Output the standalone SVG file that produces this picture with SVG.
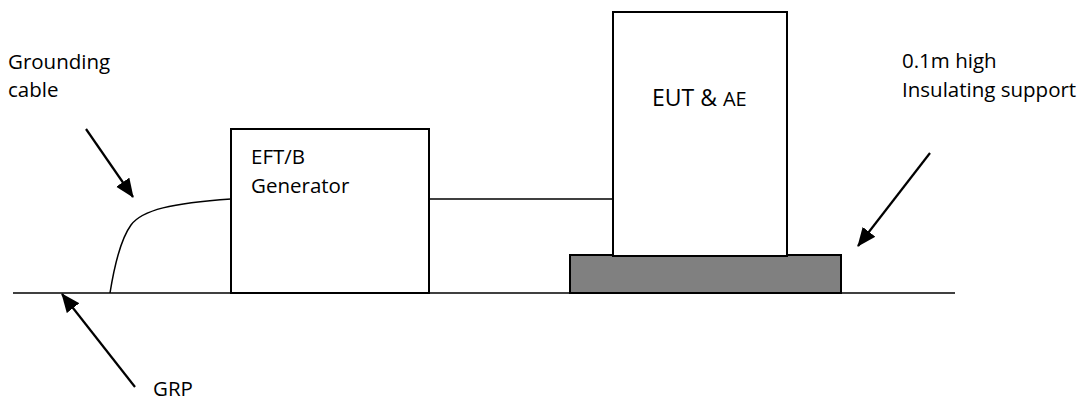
<svg xmlns="http://www.w3.org/2000/svg" width="1088" height="400" viewBox="0 0 1088 400">
<style>
.t{font-family:"Open Sans","Noto Sans","Liberation Sans",sans-serif;font-size:20.5px;fill:#000}
.box{fill:#fff;stroke:#000;stroke-width:2}
.ln{fill:none;stroke:#000;stroke-width:1.5}
.arr{fill:none;stroke:#000;stroke-width:2.2;marker-end:url(#ah)}
</style>
<defs>
<marker id="ah" markerUnits="userSpaceOnUse" markerWidth="22" markerHeight="18" refX="18" refY="8" orient="auto" viewBox="0 0 22 16">
<path d="M0,0 L19,8 L0,16 Z" fill="#000"/>
</marker>
</defs>
<rect width="1088" height="400" fill="#fff"/>
<g id="connectors">
<line id="grp-line" class="ln" x1="13" y1="293" x2="955" y2="293"/>
<path id="ground-cable" class="ln" d="M231,199 C172,203 142,210 131,225 C120,240 114,268 110,293"/>
<line id="gen-eut" class="ln" x1="430" y1="199" x2="617" y2="199"/>
<line class="arr" x1="86" y1="129" x2="133" y2="197"/>
<line class="arr" x1="930" y1="153" x2="858" y2="246"/>
<line class="arr" x1="135" y1="387" x2="62" y2="294"/>
</g>
<g id="generator">
<rect class="box" x="231" y="129" width="198" height="164"/>
<text class="t" x="251" y="164">EFT/B</text>
<text class="t" x="251" y="193">Generator</text>
</g>
<g id="support">
<rect x="570" y="255" width="271" height="38" fill="#808080" stroke="#000" stroke-width="2"/>
</g>
<g id="eut">
<rect class="box" x="613" y="12" width="174" height="244"/>
<text class="t" x="652" y="106" font-size="23px" style="font-size:23px">EUT &amp; <tspan style="font-size:20px">AE</tspan></text>
</g>
<g id="labels">
<text class="t" x="8" y="69">Grounding</text>
<text class="t" x="8" y="97">cable</text>
<text class="t" x="902" y="68">0.1m high</text>
<text class="t" x="902" y="97">Insulating support</text>
<text class="t" x="153" y="396">GRP</text>
</g>
</svg>
